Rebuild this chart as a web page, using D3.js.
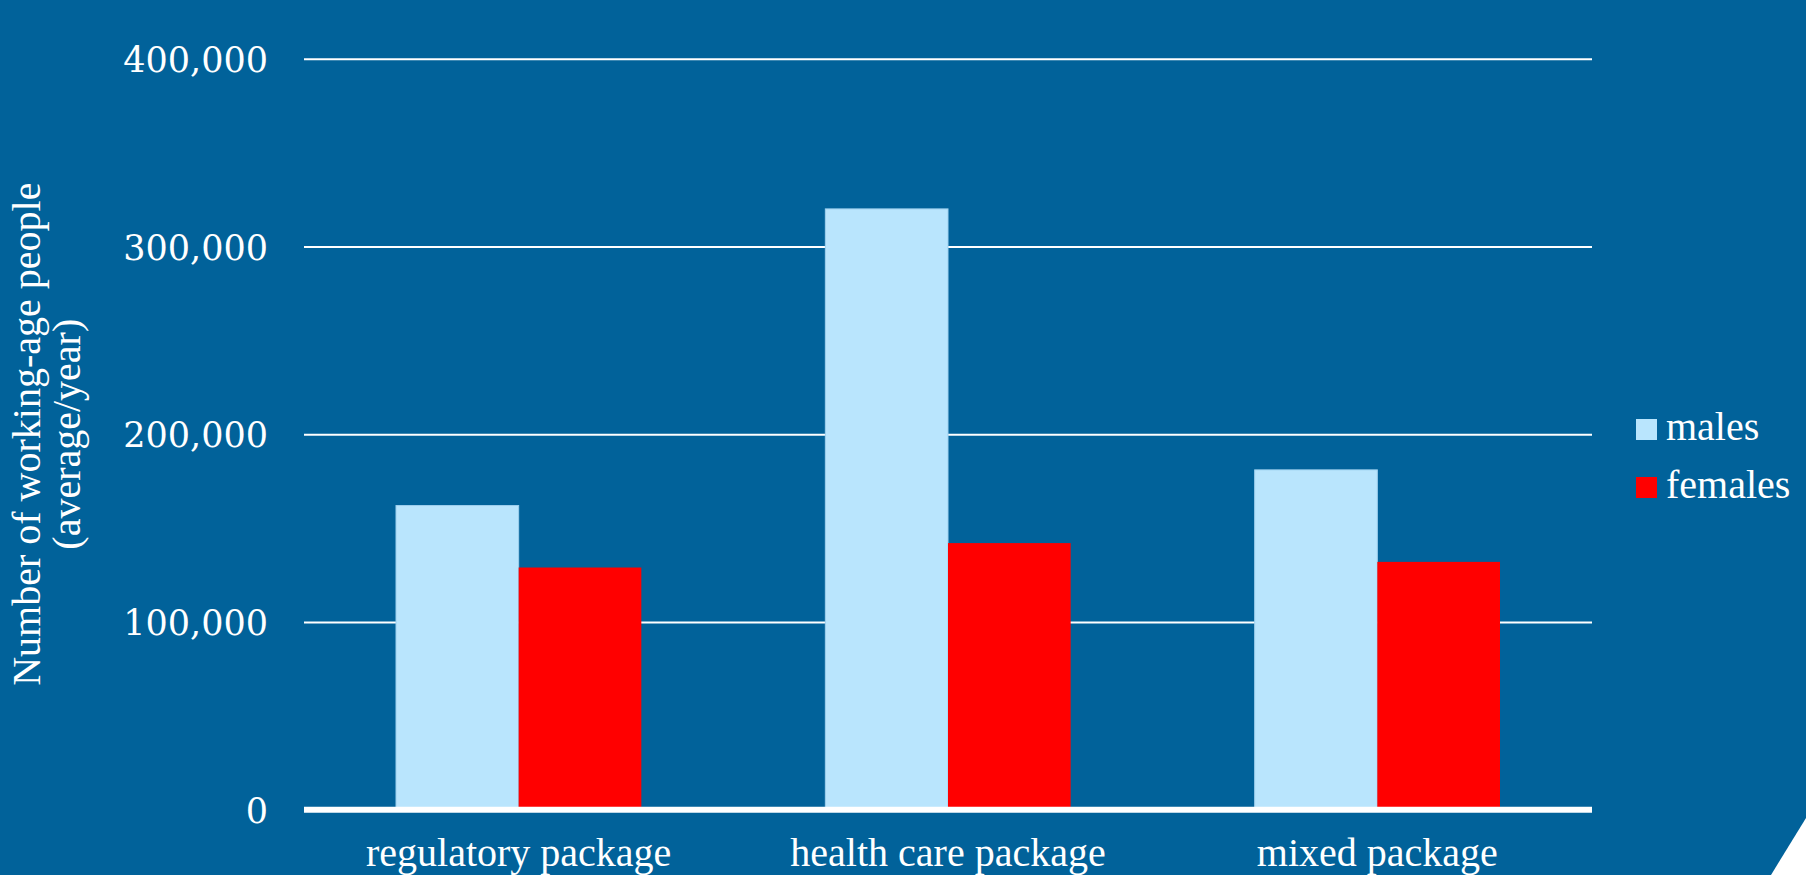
<!DOCTYPE html>
<html>
<head>
<meta charset="utf-8">
<script src="https://cdn.jsdelivr.net/npm/d3@7"></script>
<style>
  html, body { margin: 0; padding: 0; background: #01629a; }
  svg { display: block; }
</style>
</head>
<body>
<svg id="chart" width="1806" height="875"></svg>
<script>
// Working-age people by policy package and sex (average per year)
const categories = ["regulatory package", "health care package", "mixed package"];
const seriesNames = ["males", "females"];
const males = [162000, 320000, 181000];
const females = [129000, 142000, 132000];
const yTicks = [0, 100000, 200000, 300000, 400000];
const yTitleLines = ["Number of working-age people", "(average/year)"];

const colors = { males: "#b9e5fd", females: "#ff0000" };
const bg = "#01629a";
const textFont = "'Liberation Serif', 'Times New Roman', serif";
const numFont = "'DejaVu Serif', serif";

const W = 1806, H = 875;
const plot = { left: 304, right: 1592, top: 58.7, bottom: 809.7 };

const svg = d3.select("#chart");

svg.append("rect").attr("width", W).attr("height", H).attr("fill", bg);

const y = d3.scaleLinear().domain([0, 400000]).range([plot.bottom, plot.top]);
const x0 = d3.scaleBand().domain(categories)
  .range([plot.left, plot.right])
  .paddingInner(0.4286).paddingOuter(0.2143);
const x1 = d3.scaleBand().domain(seriesNames).range([0, x0.bandwidth()]);

// value axis with gridlines
const yAxis = d3.axisLeft(y)
  .tickValues(yTicks)
  .tickSize(-(plot.right - plot.left))
  .tickPadding(36)
  .tickFormat(d3.format(","));

const gy = svg.append("g")
  .attr("transform", `translate(${plot.left},0)`)
  .call(yAxis);
gy.select(".domain").remove();
gy.selectAll(".tick line")
  .attr("stroke", "#ffffff")
  .attr("stroke-width", 2)
  .filter(d => d === 0).remove();
gy.selectAll(".tick text")
  .attr("fill", "#ffffff")
  .attr("font-family", numFont)
  .attr("font-size", 35)
  .attr("dy", "0.36em");

// bars
const rows = categories.map((c, i) => ({ category: c, males: males[i], females: females[i] }));

const groups = svg.append("g").selectAll("g")
  .data(rows)
  .join("g")
  .attr("transform", d => `translate(${x0(d.category)},0)`);

groups.selectAll("rect")
  .data(d => seriesNames.map(s => ({ key: s, value: d[s] })))
  .join("rect")
  .attr("x", d => x1(d.key))
  .attr("y", d => y(d.value))
  .attr("width", x1.bandwidth())
  .attr("height", d => y(0) - y(d.value))
  .attr("fill", d => colors[d.key])
  .attr("stroke", d => d.key === "males" ? "#9fd0ee" : "none")
  .attr("stroke-width", 1);

// baseline
svg.append("line")
  .attr("x1", plot.left).attr("x2", plot.right)
  .attr("y1", y(0)).attr("y2", y(0))
  .attr("stroke", "#ffffff")
  .attr("stroke-width", 6);

// category labels
const xAxis = d3.axisBottom(x0).tickSize(0).tickPadding(0);
const gx = svg.append("g")
  .attr("transform", `translate(0,${y(0)})`)
  .call(xAxis);
gx.select(".domain").remove();
gx.selectAll(".tick text")
  .attr("fill", "#ffffff")
  .attr("font-family", textFont)
  .attr("font-size", 40)
  .attr("dy", null)
  .attr("y", 56);

// y-axis title
const yTitle = svg.append("g")
  .attr("transform", `translate(0,${(plot.top + plot.bottom) / 2}) rotate(-90)`);
yTitle.selectAll("text")
  .data(yTitleLines)
  .join("text")
  .attr("x", 0)
  .attr("y", (d, i) => 40 + i * 40)
  .attr("text-anchor", "middle")
  .attr("fill", "#ffffff")
  .attr("font-family", textFont)
  .attr("font-size", 40)
  .text(d => d);

// legend
const legend = svg.append("g").attr("transform", "translate(1636,419)");
const li = legend.selectAll("g")
  .data(seriesNames)
  .join("g")
  .attr("transform", (d, i) => `translate(0,${i * 58})`);
li.append("rect")
  .attr("width", 21).attr("height", 21)
  .attr("fill", d => colors[d]);
li.append("text")
  .attr("x", 30).attr("y", 21)
  .attr("fill", "#ffffff")
  .attr("font-family", textFont)
  .attr("font-size", 40)
  .text(d => d);

// corner accent
svg.append("path")
  .attr("d", `M${W},818 L${W},${H} L1771,${H} Z`)
  .attr("fill", "#ffffff");
</script>
</body>
</html>
